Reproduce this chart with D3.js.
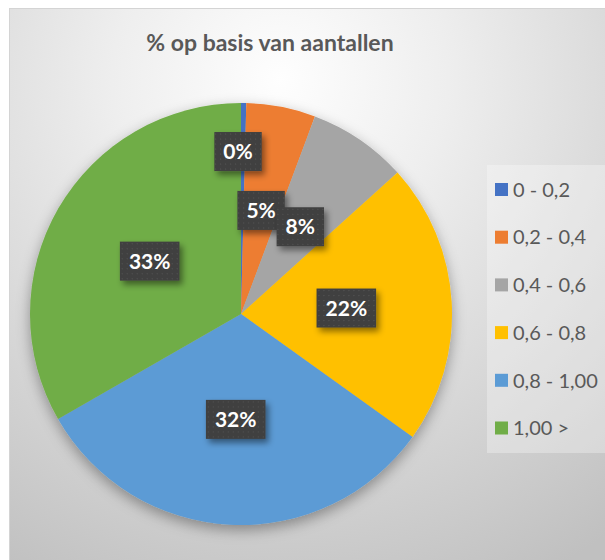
<!DOCTYPE html>
<html lang="nl">
<head>
	<meta charset="utf-8">
	<title>% op basis van aantallen</title>
	<script src="https://d3js.org/d3.v7.min.js"></script>
	<style type="text/css">
		body { margin: 0; background: #ffffff; }
		svg text { font-family: Lato, "Open Sans", sans-serif; }
	</style>
</head>
<body>
	<script type="text/javascript">

		// Data
		var categories = ["0 - 0,2", "0,2 - 0,4", "0,4 - 0,6", "0,6 - 0,8", "0,8 - 1,00", "1,00 >"];
		var values = [0.4, 5.3, 7.6, 21.6, 31.8, 33.3];		// percentages
		var colors = ["#4472C4", "#ED7D31", "#A5A5A5", "#FFC000", "#5B9BD5", "#70AD47"];
		var title = "% op basis van aantallen";

		// Sizes
		var width = 605, height = 560;
		var cx = 241, cy = 314, radius = 211;

		var svg = d3.select("body")
					.append("svg")
					.attr("width", width)
					.attr("height", height);

		var defs = svg.append("defs");

		// background gradient
		var bg = defs.append("radialGradient")
			.attr("id", "bg")
			.attr("gradientUnits", "userSpaceOnUse")
			.attr("cx", 280).attr("cy", 80).attr("r", 560);
		bg.append("stop").attr("offset", "0%").attr("stop-color", "#fefefe");
		bg.append("stop").attr("offset", "30%").attr("stop-color", "#eeeeee");
		bg.append("stop").attr("offset", "100%").attr("stop-color", "#c0c0c0");

		// shadow for pie
		var pieShadow = defs.append("filter").attr("id", "pieShadow")
			.attr("x", "-20%").attr("y", "-20%").attr("width", "140%").attr("height", "140%");
		pieShadow.append("feDropShadow")
			.attr("dx", 0).attr("dy", 5).attr("stdDeviation", 7)
			.attr("flood-color", "#000").attr("flood-opacity", 0.35);

		// shadow for labels
		var labShadow = defs.append("filter").attr("id", "labShadow")
			.attr("x", "-30%").attr("y", "-30%").attr("width", "170%").attr("height", "170%");
		labShadow.append("feDropShadow")
			.attr("dx", 3).attr("dy", 4).attr("stdDeviation", 3)
			.attr("flood-color", "#000").attr("flood-opacity", 0.45);

		// dotted texture for labels
		var pat = defs.append("pattern").attr("id", "dots")
			.attr("patternUnits", "userSpaceOnUse")
			.attr("width", 5).attr("height", 5);
		pat.append("rect").attr("width", 5).attr("height", 5).attr("fill", "#3f3f3f");
		pat.append("rect").attr("x", 2).attr("y", 2).attr("width", 1.2).attr("height", 1.2).attr("fill", "#545454");

		// Chart area
		svg.append("rect")
			.attr("x", 9.5).attr("y", 8.5)
			.attr("width", width).attr("height", height)
			.attr("fill", "url(#bg)")
			.attr("stroke", "#d4d4d4");

		// Title
		svg.append("text")
			.attr("x", 270)
			.attr("y", 51)
			.attr("text-anchor", "middle")
			.attr("font-size", 23)
			.attr("font-weight", 700)
			.attr("fill", "#595959")
			.text(title);

		// Pie
		var pie = d3.pie().sort(null).value(function(d) { return d; });
		var arc = d3.arc().innerRadius(0).outerRadius(radius);
		var arcs = pie(values);

		var g = svg.append("g")
			.attr("transform", "translate(" + cx + "," + cy + ")");

		g.append("g")
			.attr("filter", "url(#pieShadow)")
			.selectAll("path")
			.data(arcs)
			.enter()
			.append("path")
			.attr("d", arc)
			.attr("fill", function(d, i) { return colors[i]; });

		// Data labels
		var fmt = d3.format(".0%");
		var labels = g.selectAll("g.label")
			.data(arcs)
			.enter()
			.append("g")
			.attr("class", "label")
			.attr("transform", function(d) {
				var a = (d.startAngle + d.endAngle) / 2;
				// tiny slices get pushed outward so they don't collide
				var r = (d.endAngle - d.startAngle) < 0.1 ? radius * 0.77 : radius * 0.5;
				return "translate(" + (Math.sin(a) * r - ((d.endAngle - d.startAngle) < 0.1 ? 5 : 0)) + "," + (-Math.cos(a) * r) + ")";
			});

		labels.append("rect").attr("class", "box");
		labels.append("text")
			.attr("text-anchor", "middle")
			.attr("dy", "0.36em")
			.attr("font-size", 21)
			.attr("font-weight", 700)
			.attr("fill", "#ffffff")
			.text(function(d) { return fmt(d.value / 100); });

		labels.each(function() {
			var t = d3.select(this).select("text").node();
			var w = t.getComputedTextLength() + 18;
			d3.select(this).select("rect")
				.attr("x", -w / 2).attr("y", -19.5)
				.attr("width", w).attr("height", 39)
				.attr("fill", "url(#dots)")
				.attr("filter", "url(#labShadow)");
		});

		// Legend
		var legend = svg.append("g");
		legend.append("rect")
			.attr("x", 487).attr("y", 165)
			.attr("width", 130).attr("height", 288)
			.attr("fill", "#ffffff").attr("fill-opacity", 0.3);

		var items = legend.selectAll("g.item")
			.data(categories)
			.enter()
			.append("g")
			.attr("class", "item")
			.attr("transform", function(d, i) { return "translate(495," + (189.5 + i * 47.7) + ")"; });

		items.append("rect")
			.attr("x", 0).attr("y", -6.5)
			.attr("width", 13).attr("height", 13)
			.attr("fill", function(d, i) { return colors[i]; });

		items.append("text")
			.attr("x", 18)
			.attr("dy", "0.36em")
			.attr("font-size", 20)
			.attr("fill", "#595959")
			.text(function(d) { return d; });

	</script>
</body>
</html>
